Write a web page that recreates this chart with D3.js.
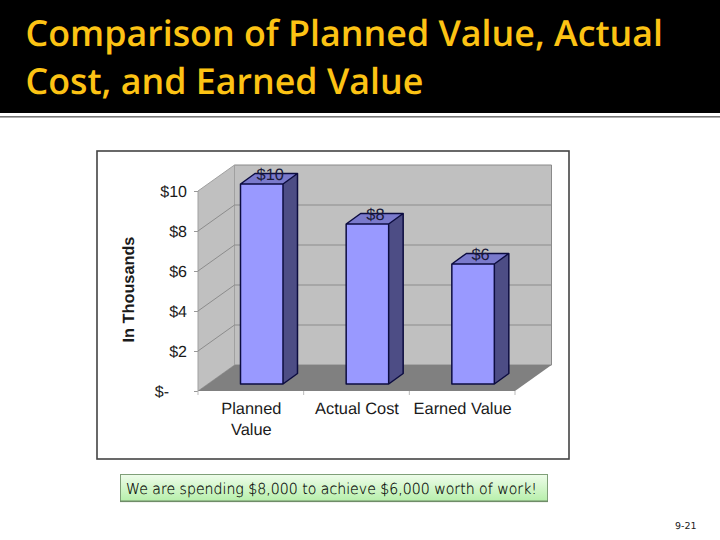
<!DOCTYPE html>
<html>
<head>
<meta charset="utf-8">
<script src="https://cdn.jsdelivr.net/npm/d3@7/dist/d3.min.js"></script>
<style>
html,body{margin:0;padding:0;background:#fff;}
svg{display:block;}
text{text-rendering:geometricPrecision;}
</style>
</head>
<body>
<svg id="c" width="720" height="540"></svg>
<script>
const titleLines = ["Comparison of Planned Value, Actual", "Cost, and Earned Value"];
const categories = ["Planned Value", "Actual Cost", "Earned Value"];
const values = [10, 8, 6];
const valueLabels = ["$10", "$8", "$6"];
const yTicks = [0, 2, 4, 6, 8, 10];
const yTickLabels = ["$-", "$2", "$4", "$6", "$8", "$10"];
const yAxisTitle = "In Thousands";
const caption = "We are spending $8,000 to achieve $6,000 worth of work!";
const pageNumber = "9-21";

const svg = d3.select("#c");
const defs = svg.append("defs");
const grad = defs.append("linearGradient").attr("id","cap").attr("x1",0).attr("y1",0).attr("x2",0).attr("y2",1);
grad.append("stop").attr("offset","0%").attr("stop-color","#eefcea");
grad.append("stop").attr("offset","100%").attr("stop-color","#b6efaa");

// Header
svg.append("rect").attr("x",0).attr("y",0).attr("width",720).attr("height",113).attr("fill","#000");
svg.append("rect").attr("x",0).attr("y",116).attr("width",720).attr("height",1.6).attr("fill","#777");
svg.selectAll("text.title").data(titleLines).join("text").attr("class","title")
  .attr("x",25.5).attr("y",(d,i)=>46+i*48)
  .attr("font-family","'Open Sans', Lato, sans-serif").attr("font-weight",600).attr("font-size",35.8)
  .attr("fill","#fcc314").text(d=>d);

// Chart panel
svg.append("rect").attr("x",97).attr("y",151).attr("width",472).attr("height",308)
  .attr("fill","#fff").attr("stroke","#444").attr("stroke-width",1.6);

// Scales
const y = d3.scaleLinear().domain([0,10]).range([391,191]);
const x = d3.scaleBand().domain(categories).range([198,515]);
const depthX = 36.5, depthY = -26;   // floor depth of the chart box
const barDX = 14.5, barDY = -10.5;   // depth of each column
const barInsetX = 42.5, barInsetY = -7, barW = 42.5;

const g = svg.append("g");
const left = x.range()[0], right = x.range()[1];
const pts = a => a.map(p=>p.join(",")).join(" ");

// Back wall
g.append("polygon").attr("points",pts([[left+depthX,y(10)+depthY],[right+depthX,y(10)+depthY],[right+depthX,y(0)+depthY],[left+depthX,y(0)+depthY]]))
  .attr("fill","#c0c0c0").attr("stroke","#8a8a8a").attr("stroke-width",1);
// Left wall
g.append("polygon").attr("points",pts([[left,y(10)],[left+depthX,y(10)+depthY],[left+depthX,y(0)+depthY],[left,y(0)]]))
  .attr("fill","#c0c0c0").attr("stroke","#a0a0a0").attr("stroke-width",1);
// Floor
g.append("polygon").attr("points",pts([[left,y(0)],[left+depthX,y(0)+depthY],[right+depthX,y(0)+depthY],[right,y(0)]]))
  .attr("fill","#808080");
// Gridlines
g.selectAll("path.grid").data(yTicks.filter(t=>t>0&&t<10)).join("path").attr("class","grid")
  .attr("fill","none").attr("stroke","#8c8c8c").attr("stroke-width",1)
  .attr("d",t=>`M${left},${y(t)}L${left+depthX},${y(t)+depthY}L${right+depthX},${y(t)+depthY}`);

// Axes
const yAxis = d3.axisLeft(y).tickValues(yTicks).tickSize(4).tickPadding(7)
  .tickFormat((d,i)=>yTickLabels[i]);
const ya = g.append("g").attr("transform",`translate(${left},0)`).call(yAxis);
ya.select(".domain").remove();
ya.selectAll(".tick line").attr("stroke","#999");
ya.selectAll("text").attr("font-family","'Liberation Sans', Arial, sans-serif").attr("font-size",16).attr("fill","#1a1a1a");
ya.selectAll(".tick").filter(d=>d===0).select("text").attr("dx",-18).attr("dy","0.32em");

const xa = g.append("g").attr("transform",`translate(0,${y(0)})`)
  .call(d3.axisBottom(x).tickSize(0).tickFormat(""));
xa.select(".domain").remove();
xa.selectAll(".tick").remove();
const boundaries = [...categories.map(c=>x(c)), right];
xa.selectAll("line.b").data(boundaries).join("line").attr("class","b")
  .attr("x1",d=>d).attr("x2",d=>d).attr("y1",0).attr("y2",4).attr("stroke","#bbb");

// Category labels (wrap on a fixed width)
const wrapped = c => c.startsWith("Planned") ? c.split(" ") : [c];
g.selectAll("text.cat").data(categories).join("text").attr("class","cat")
  .attr("text-anchor","middle").attr("font-family","'Liberation Sans', Arial, sans-serif").attr("font-size",16.4).attr("fill","#1a1a1a")
  .each(function(c){
    d3.select(this).selectAll("tspan").data(wrapped(c)).join("tspan")
      .attr("x",x(c)+x.bandwidth()/2+0.5).attr("y",(d,i)=>413.5+i*21.5).text(d=>d);
  });

// Axis title
svg.append("text").attr("transform","translate(134,289.5) rotate(-90)").attr("text-anchor","middle")
  .attr("font-family","'Liberation Sans', Arial, sans-serif").attr("font-weight",700).attr("font-size",16.3).attr("fill","#1a1a1a").text(yAxisTitle);

// Columns
const stroke = "#0c0c40";
const bars = g.selectAll("g.bar").data(categories.map((c,i)=>({c,v:values[i],l:valueLabels[i]}))).join("g").attr("class","bar");
bars.each(function(d){
  const s = d3.select(this);
  const x0 = x(d.c)+barInsetX, x1 = x0+barW;
  const yt = y(d.v)+barInsetY, yb = y(0)+barInsetY;
  s.append("polygon").attr("points",pts([[x0,yt],[x1,yt],[x1,yb],[x0,yb]])).attr("fill","#9999ff");
  s.append("polygon").attr("points",pts([[x0,yt],[x0+barDX,yt+barDY],[x1+barDX,yt+barDY],[x1,yt]])).attr("fill","#7a7acc");
  s.append("polygon").attr("points",pts([[x1,yt],[x1+barDX,yt+barDY],[x1+barDX,yb+barDY],[x1,yb]])).attr("fill","#4d4d85");
  s.append("path").attr("fill","none").attr("stroke",stroke).attr("stroke-width",1.5).attr("stroke-linejoin","round")
    .attr("d",`M${x0},${yt}L${x1},${yt}L${x1},${yb}L${x0},${yb}Z M${x0},${yt}L${x0+barDX},${yt+barDY}L${x1+barDX},${yt+barDY}L${x1},${yt} M${x1+barDX},${yt+barDY}L${x1+barDX},${yb+barDY}L${x1},${yb}`);
});
// Value labels
g.selectAll("text.val").data(values).join("text").attr("class","val")
  .attr("x",(d,i)=>x(categories[i])+barInsetX+barW/2+barDX-6+(i===0?0:i===1?-0.5:-1))
  .attr("y",d=>y(d)+barInsetY+barDY+6)
  .attr("text-anchor","middle").attr("font-family","'Liberation Sans', Arial, sans-serif").attr("font-size",16.4)
  .attr("fill","#1a1a3a").text((d,i)=>valueLabels[i]);

// Caption
svg.append("rect").attr("x",120.5).attr("y",474.5).attr("width",427).attr("height",27)
  .attr("fill","url(#cap)").attr("stroke","#7f9f78").attr("stroke-width",1);
svg.append("rect").attr("x",120).attr("y",500.5).attr("width",428).attr("height",1.6).attr("fill","#6f8c68");
svg.append("text").attr("x",126).attr("y",493.5)
  .attr("font-family","'DejaVu Sans', Verdana, sans-serif").attr("font-weight",200).attr("font-size",15).attr("textLength",411).attr("lengthAdjust","spacingAndGlyphs")
  .attr("fill","#000").attr("stroke","#000").attr("stroke-width",0.15).text(caption);

// Page number
svg.append("text").attr("x",675).attr("y",528.5)
  .attr("font-family","'DejaVu Sans', sans-serif").attr("font-size",9.5).attr("fill","#222").text(pageNumber);
</script>
</body>
</html>
